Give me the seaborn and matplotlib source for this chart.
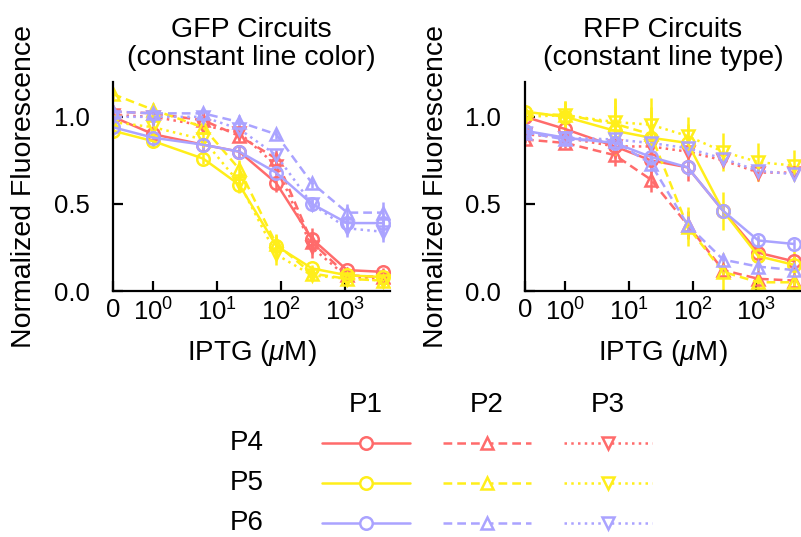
import numpy as np
import pandas as pd
import matplotlib
matplotlib.use('Agg')
import matplotlib.pyplot as plt
import seaborn as sns
from matplotlib.ticker import NullLocator

# IPTG concentrations (uM)
iptg = [0, 1, 6, 22, 83, 300, 1070, 3900]

# GFP circuits (left panel)
gfp_p4_p1 = [1.00, 0.90, 0.84, 0.80, 0.62, 0.30, 0.12, 0.11]
gfp_p4_p2 = [1.03, 1.02, 0.98, 0.89, 0.76, 0.28, 0.09, 0.08]
gfp_p4_p3 = [1.01, 1.00, 0.95, 0.91, 0.72, 0.25, 0.08, 0.07]
gfp_p5_p1 = [0.92, 0.86, 0.76, 0.61, 0.26, 0.13, 0.09, 0.08]
gfp_p5_p2 = [1.13, 1.04, 0.94, 0.70, 0.27, 0.10, 0.07, 0.06]
gfp_p5_p3 = [0.97, 0.94, 0.87, 0.62, 0.21, 0.09, 0.07, 0.06]
gfp_p6_p1 = [0.94, 0.88, 0.84, 0.80, 0.68, 0.50, 0.39, 0.39]
gfp_p6_p2 = [1.03, 1.02, 1.02, 0.97, 0.90, 0.62, 0.45, 0.45]
gfp_p6_p3 = [1.00, 1.00, 1.00, 0.93, 0.78, 0.50, 0.36, 0.34]

gfp_err_p4 = [0.02, 0.02, 0.03, 0.03, 0.05, 0.06, 0.02, 0.02]
gfp_err_p5 = [0.03, 0.03, 0.03, 0.05, 0.06, 0.02, 0.02, 0.02]
gfp_err_p6 = [0.02, 0.06, 0.03, 0.04, 0.03, 0.03, 0.05, 0.06]

# RFP circuits (right panel)
rfp_p4_p1 = [1.00, 0.93, 0.83, 0.75, 0.71, 0.46, 0.22, 0.17]
rfp_p4_p2 = [0.87, 0.85, 0.78, 0.64, 0.38, 0.12, 0.07, 0.06]
rfp_p4_p3 = [0.90, 0.88, 0.83, 0.83, 0.80, 0.75, 0.68, 0.68]
rfp_p5_p1 = [1.03, 1.00, 0.92, 0.88, 0.85, 0.46, 0.20, 0.15]
rfp_p5_p2 = [1.02, 1.01, 0.96, 0.90, 0.37, 0.11, 0.05, 0.05]
rfp_p5_p3 = [1.00, 1.01, 0.97, 0.955, 0.89, 0.80, 0.74, 0.72]
rfp_p6_p1 = [0.92, 0.88, 0.85, 0.77, 0.71, 0.46, 0.29, 0.27]
rfp_p6_p2 = [0.91, 0.87, 0.86, 0.73, 0.38, 0.18, 0.14, 0.12]
rfp_p6_p3 = [0.91, 0.88, 0.87, 0.85, 0.82, 0.76, 0.69, 0.67]

rfp_err_p4 = [0.02, 0.03, 0.065, 0.07, 0.08, 0.03, 0.05, 0.03]
rfp_err_p5 = [0.03, 0.08, 0.14, 0.155, 0.11, 0.11, 0.11, 0.09]
rfp_err_p6 = [0.02, 0.02, 0.03, 0.03, 0.05, 0.03, 0.03, 0.03]

rows = ['P4', 'P5', 'P6']
cols = ['P1', 'P2', 'P3']
colors = {'P4': '#ff6b6b', 'P5': '#ffee1a', 'P6': '#aaa3ff'}
markers = {'P1': 'o', 'P2': '^', 'P3': 'v'}
dashes = {'P1': '', 'P2': (3.5, 2), 'P3': (1, 1.7)}

series = {
    'GFP': [gfp_p4_p1, gfp_p4_p2, gfp_p4_p3, gfp_p5_p1, gfp_p5_p2, gfp_p5_p3,
            gfp_p6_p1, gfp_p6_p2, gfp_p6_p3],
    'RFP': [rfp_p4_p1, rfp_p4_p2, rfp_p4_p3, rfp_p5_p1, rfp_p5_p2, rfp_p5_p3,
            rfp_p6_p1, rfp_p6_p2, rfp_p6_p3],
}
errors = {
    'GFP': [gfp_err_p4, gfp_err_p5, gfp_err_p6],
    'RFP': [rfp_err_p4, rfp_err_p5, rfp_err_p6],
}

recs = []
for panel, vals in series.items():
    for k, v in enumerate(vals):
        r, c = rows[k // 3], cols[k % 3]
        e = errors[panel][k // 3]
        for x, y, err in zip(iptg, v, e):
            recs.append((panel, r, c, x, y, err))
df = pd.DataFrame(recs, columns=['panel', 'row', 'col', 'iptg', 'fluor', 'err'])

sns.set_style('ticks')
plt.rcParams['font.family'] = ['Liberation Sans', 'DejaVu Sans']
plt.rcParams['mathtext.fontset'] = 'custom'
plt.rcParams['mathtext.rm'] = 'Liberation Sans'
plt.rcParams['mathtext.it'] = 'Liberation Sans:italic'
plt.rcParams['mathtext.bf'] = 'Liberation Sans:bold'
for key in ['text.color', 'axes.labelcolor', 'xtick.color', 'ytick.color',
            'axes.edgecolor']:
    plt.rcParams[key] = 'black'

LW = 1.8
MS = 9

fig = plt.figure(figsize=(8.01, 5.37), dpi=100)
ax1 = fig.add_axes([0.1411, 0.4581, 0.3458, 0.3892])
ax2 = fig.add_axes([0.6554, 0.4581, 0.3446, 0.3892])

titles = {'GFP': 'GFP Circuits\n(constant line color)',
          'RFP': 'RFP Circuits\n(constant line type)'}

for ax, panel in [(ax1, 'GFP'), (ax2, 'RFP')]:
    sub = df[df.panel == panel]
    for (r, c), g in sub.groupby(['row', 'col']):
        ax.errorbar(g.iptg, g.fluor, yerr=g.err, fmt='none',
                    ecolor=colors[r], elinewidth=LW, capsize=0)
    sns.lineplot(data=sub, x='iptg', y='fluor', hue='row', style='col',
                 hue_order=rows, style_order=cols, palette=colors,
                 markers=markers, dashes=dashes, markersize=MS, linewidth=LW,
                 markeredgewidth=LW, errorbar=None, legend=False, ax=ax)
    for line in ax.get_lines():
        line.set_markerfacecolor('none')
        line.set_markeredgecolor(line.get_color())

    ax.set_xscale('symlog', linthresh=1, linscale=0.569)
    ax.set_xlim(0, 5000)
    ax.set_ylim(0, 1.2)
    ax.set_xticks([0, 1, 10, 100, 1000])
    ax.set_xticklabels(['0', '$10^0$', '$10^1$', '$10^2$', '$10^3$'])
    ax.xaxis.set_minor_locator(NullLocator())
    ax.set_yticks([0, 0.5, 1.0])
    ax.set_yticklabels(['0.0', '0.5', '1.0'])
    sns.despine(ax=ax)
    for s in ['left', 'bottom']:
        ax.spines[s].set_linewidth(1.6)
    ax.tick_params(direction='in', length=7, width=1.6, labelsize=18.5)
    ax.tick_params(axis='y', pad=17)
    ax.tick_params(axis='x', pad=5)
    ax.set_xlabel('IPTG ($\\mu$M)', fontsize=20, labelpad=9)
    ax.set_ylabel('Normalized Fluorescence', fontsize=20.5, labelpad=12)
    ax.set_title(titles[panel], fontsize=20.5, pad=12, linespacing=1.12)

# grid legend: columns = line type, rows = colour
leg = fig.add_axes([0, 0, 1, 1])
leg.set_xlim(0, 801)
leg.set_ylim(537, 0)
leg.axis('off')
col_x, col_dx = 366, 121
row_y, row_dy = 443, 40
for j, c in enumerate(cols):
    leg.text(col_x + j * col_dx, 405, c, fontsize=20, ha='center', va='center')
for i, r in enumerate(rows):
    y = row_y + i * row_dy
    leg.text(247, y, r, fontsize=20, ha='center', va='center')
    for j, c in enumerate(cols):
        x = col_x + j * col_dx
        ln, = leg.plot([x - 44, x + 44], [y, y], color=colors[r], lw=LW)
        if dashes[c]:
            ln.set_dashes(dashes[c])
        leg.plot([x], [y], marker=markers[c], markersize=MS, mew=LW,
                 mfc='white', mec=colors[r], ls='none')

fig.savefig('out.png', dpi=100)
